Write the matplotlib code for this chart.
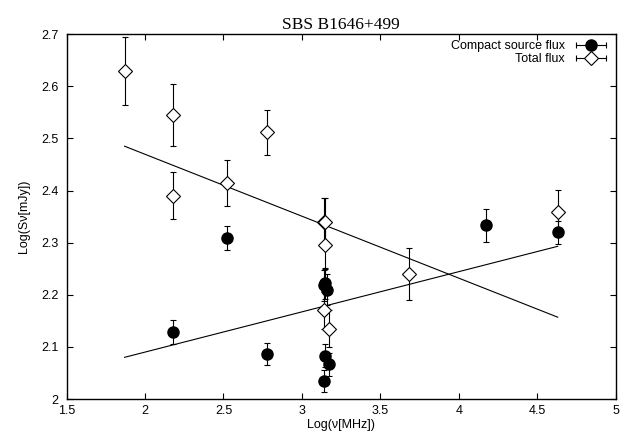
import numpy as np
import matplotlib.pyplot as plt
from matplotlib.lines import Line2D
from matplotlib.legend_handler import HandlerLine2D, HandlerTuple

# Total flux (diamonds)
total_x = [1.87, 2.18, 2.18, 2.52, 2.78, 3.14, 3.15, 3.15, 3.14, 3.17, 3.68, 4.63]
total_y = [2.630, 2.545, 2.390, 2.415, 2.512, 2.340, 2.340, 2.295, 2.170, 2.135, 2.240, 2.358]
total_err = [0.065, 0.060, 0.045, 0.044, 0.043, 0.045, 0.045, 0.045, 0.035, 0.035, 0.050, 0.043]

# Compact source flux (filled circles)
comp_x = [2.18, 2.52, 2.78, 3.14, 3.15, 3.17, 3.14, 3.15, 3.16, 4.17, 4.63]
comp_y = [2.128, 2.308, 2.087, 2.034, 2.083, 2.067, 2.218, 2.222, 2.210, 2.333, 2.320]
comp_err = [0.023, 0.023, 0.021, 0.021, 0.022, 0.022, 0.030, 0.030, 0.030, 0.032, 0.022]

# fitted lines (end points)
fit_x = [1.87, 4.63]
fit_total = [2.485, 2.157]
fit_comp = [2.080, 2.293]

plt.rcParams['font.family'] = ['Liberation Sans', 'DejaVu Sans']
fs = 9

fig = plt.figure(figsize=(6.22, 4.38), dpi=100)
ax = fig.add_axes([0.107, 0.089, 0.883, 0.833])

ax.errorbar(comp_x, comp_y, yerr=comp_err, fmt='o', color='black', markersize=8,
            elinewidth=0.8, capsize=2.2, capthick=0.8)
ax.errorbar(total_x, total_y, yerr=total_err, fmt='D', color='black', mfc='white',
            markersize=6.8, markeredgewidth=0.8, elinewidth=0.8, capsize=2.2, capthick=0.8)
ax.plot(fit_x, fit_total, color='black', lw=0.8)
ax.plot(fit_x, fit_comp, color='black', lw=0.8)

ax.set_xlim(1.5, 5)
ax.set_ylim(2, 2.7)
ax.set_xticks(np.arange(1.5, 5.01, 0.5))
ax.set_xticklabels(['1.5', '2', '2.5', '3', '3.5', '4', '4.5', '5'])
ax.set_yticks(np.arange(2, 2.701, 0.1))
ax.set_yticklabels(['2', '2.1', '2.2', '2.3', '2.4', '2.5', '2.6', '2.7'])
ax.tick_params(direction='in', top=True, right=True, labelsize=fs, length=4, width=0.8)
ax.tick_params(axis='x', pad=4)
ax.tick_params(axis='y', pad=6)
for s in ax.spines.values():
    s.set_linewidth(1.0)

ax.set_xlabel('Log(ν[MHz])', fontsize=fs, labelpad=2)
ax.set_ylabel('Log(Sν[mJy])', fontsize=fs, labelpad=8)
ax.set_title('SBS B1646+499', fontsize=12.5, family='Liberation Serif', pad=4)

# legend handles: horizontal error bar with marker on top, marker on the right
caps1 = Line2D([], [], color='black', lw=0.8, marker='|', markersize=5, markeredgewidth=0.8)
caps2 = Line2D([], [], color='black', lw=0.8, marker='|', markersize=5, markeredgewidth=0.8)
m1 = Line2D([], [], ls='none', marker='o', color='black', markersize=8)
m2 = Line2D([], [], ls='none', marker='D', color='black', mfc='white', markersize=6.8,
            markeredgewidth=0.8)
ax.legend([(caps1, m1), (caps2, m2)], ['Compact source flux', 'Total flux'],
          handler_map={tuple: HandlerTuple(ndivide=1),
                       caps1: HandlerLine2D(numpoints=2),
                       caps2: HandlerLine2D(numpoints=2)},
          loc='upper right', frameon=False, markerfirst=False, fontsize=fs,
          handlelength=3.0, handletextpad=0.6, labelspacing=0.05, borderaxespad=0.2,
          borderpad=0.3)

fig.savefig('out.png', dpi=100)
